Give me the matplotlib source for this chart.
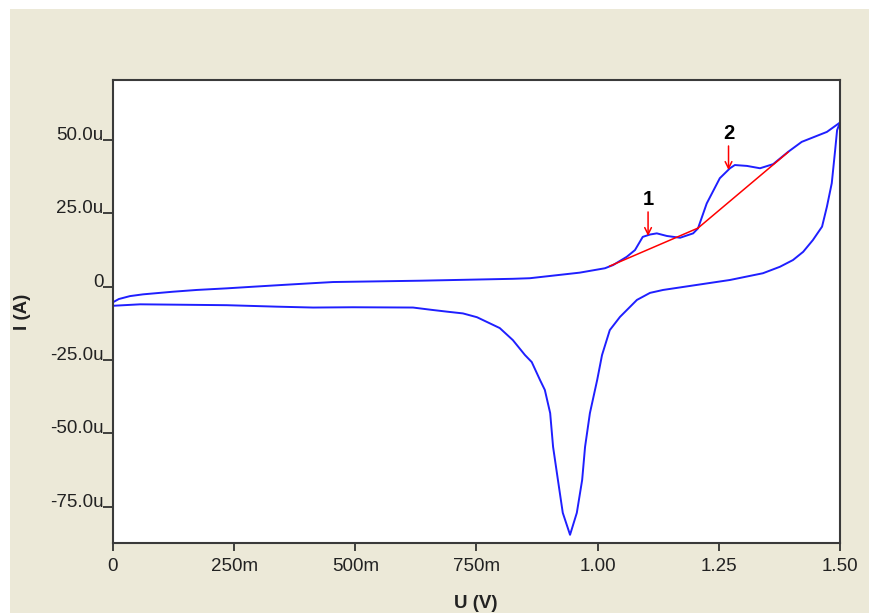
import matplotlib
matplotlib.use("Agg")
import matplotlib.pyplot as plt
from matplotlib.patches import Rectangle

plt.rcParams['font.family'] = ['Liberation Sans', 'DejaVu Sans']

# forward scan (0 -> 1.5 V), current in uA
v_fwd = [0.0, 0.012, 0.035, 0.062, 0.124, 0.173, 0.235, 0.289, 0.349, 0.406, 0.454,
         0.633, 0.825, 0.86, 0.963, 1.015, 1.032, 1.06, 1.077, 1.093, 1.108,
         1.122, 1.143, 1.17, 1.197, 1.207, 1.225, 1.252, 1.273, 1.283, 1.308,
         1.335, 1.362, 1.393, 1.421, 1.473, 1.5]
i_fwd = [-5.3, -4.2, -3.2, -2.6, -1.7, -1.1, -0.55, 0.0, 0.6, 1.15, 1.6,
         2.05, 2.7, 2.9, 4.8, 6.3, 7.4, 10.2, 12.5, 17.0, 17.8,
         18.2, 17.3, 16.7, 18.2, 19.9, 28.4, 37.0, 40.4, 41.5, 41.2,
         40.4, 41.8, 46.0, 49.4, 52.8, 56.0]

# reverse scan (1.5 -> 0 V)
v_rev = [1.5, 1.494, 1.49, 1.483, 1.473, 1.463, 1.444, 1.424, 1.403, 1.376,
         1.341, 1.273, 1.208, 1.135, 1.108, 1.081, 1.046, 1.025, 1.009, 0.999,
         0.984, 0.974, 0.968, 0.957, 0.943, 0.928, 0.918, 0.908, 0.902, 0.891,
         0.881, 0.864, 0.85, 0.825, 0.798, 0.751, 0.722, 0.689, 0.658, 0.619,
         0.495, 0.413, 0.338, 0.235, 0.056, 0.0]
i_rev = [56.0, 53.4, 46.6, 35.3, 27.3, 20.5, 15.9, 11.9, 9.1, 6.8,
         4.6, 2.3, 0.7, -1.1, -2.1, -4.5, -10.3, -14.8, -23.3, -31.8,
         -43.1, -54.6, -65.9, -77.1, -84.6, -77.1, -65.9, -54.6, -43.1, -35.2,
         -31.8, -25.7, -23.3, -18.2, -14.1, -10.4, -9.1, -8.5, -7.9, -7.1,
         -7.0, -7.1, -6.8, -6.3, -6.0, -6.5]

# baselines under the peaks
base1_v = [1.025, 1.207]
base1_i = [7.05, 20.0]
base2_v = [1.207, 1.393]
base2_i = [20.0, 45.9]

peak_labels = ['1', '2']
peak_v = [1.104, 1.270]
peak_i = [17.3, 39.8]

xticks = [0, 0.25, 0.5, 0.75, 1.0, 1.25, 1.5]
xticklabels = ['0', '250m', '500m', '750m', '1.00', '1.25', '1.50']
yticks = [-75, -50, -25, 0, 25, 50]
yticklabels = ['-75.0u', '-50.0u', '-25.0u', '0', '25.0u', '50.0u']

fig = plt.figure(figsize=(8.7, 6.13), dpi=100, facecolor='#ECE9D8')
# thin white strips at left and top edge
fig.patches.append(Rectangle((0, 0), 10 / 870, 1, transform=fig.transFigure,
                             facecolor='white', edgecolor='none'))
fig.patches.append(Rectangle((0, 604 / 613), 1, 9 / 613, transform=fig.transFigure,
                             facecolor='white', edgecolor='none'))

ax = fig.add_axes([113 / 870, 70 / 613, 727 / 870, 463 / 613])
ax.set_facecolor('white')

ax.plot(v_fwd, i_fwd, color='#1f1fff', lw=1.4)
ax.plot(v_rev, i_rev, color='#1f1fff', lw=1.4)
ax.plot(base1_v, base1_i, color='red', lw=1.1)
ax.plot(base2_v, base2_i, color='red', lw=1.1)

for lab, pv, pi in zip(peak_labels, peak_v, peak_i):
    ax.annotate('', xy=(pv, pi), xytext=(pv, pi + 8.2),
                arrowprops=dict(arrowstyle='->', color='red', lw=1.1,
                                mutation_scale=12, shrinkA=0, shrinkB=0))
    ax.text(pv, pi + 12.5, lab, ha='center', va='center', fontsize=14.5,
            fontweight='bold', color='black')

ax.set_xlim(0, 1.5)
ax.set_ylim(-87.4, 70.5)
ax.set_xticks(xticks)
ax.set_xticklabels(xticklabels)
ax.set_yticks(yticks)
ax.set_yticklabels(yticklabels)
ax.tick_params(axis='x', direction='out', length=6, width=1.2, pad=5,
               labelsize=13.5, colors='#222222')
ax.tick_params(axis='y', direction='out', length=7, width=1.2, pad=0,
               labelsize=13.5, colors='#222222')
for lab in ax.get_yticklabels():
    lab.set_va('baseline')

for s in ax.spines.values():
    s.set_color('#3a3a3a')
    s.set_linewidth(1.5)

fig.text(23 / 870, 1 - 312 / 613, 'I (A)', rotation=90, ha='center',
         va='center', fontsize=13.5, fontweight='bold', color='#222222')
fig.text(476 / 870, 1 - 603 / 613, 'U (V)', ha='center', va='center',
         fontsize=13.5, fontweight='bold', color='#222222')

fig.savefig('out.png', dpi=100, facecolor=fig.get_facecolor())
